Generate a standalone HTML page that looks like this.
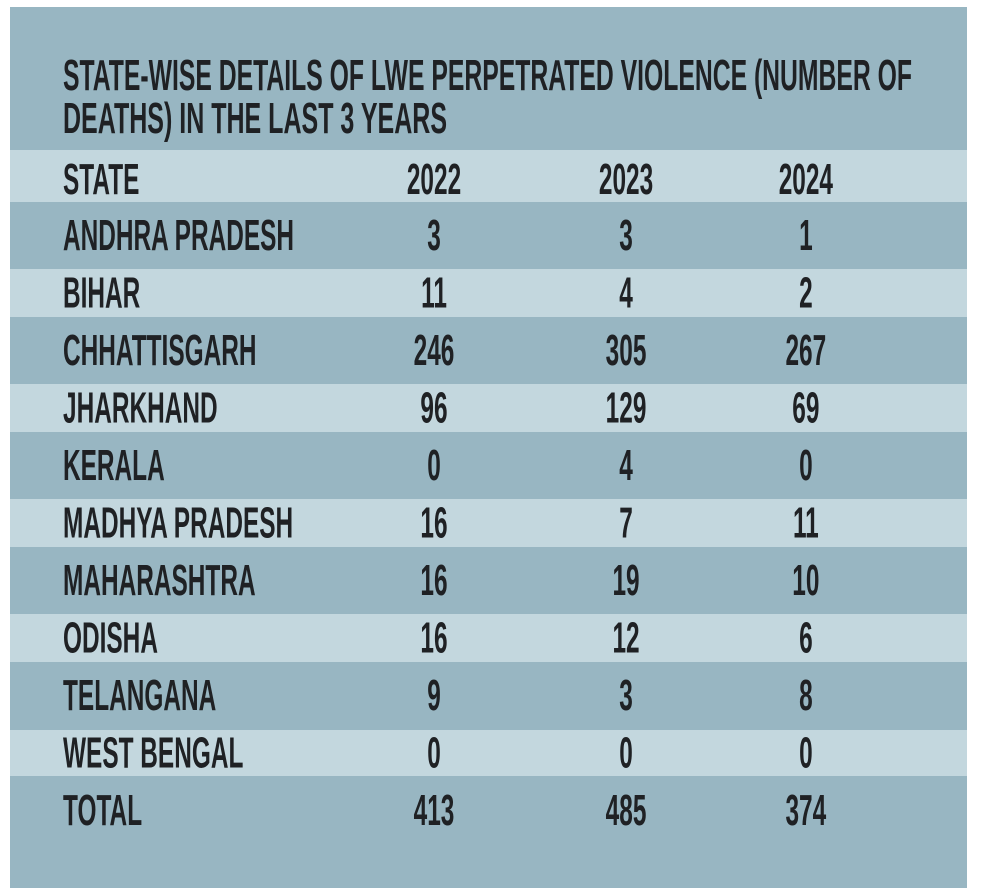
<!DOCTYPE html>
<html><head><meta charset="utf-8"><style>
html,body{margin:0;padding:0;background:#fff;}
svg{display:block;}
text{font-family:"Liberation Sans",sans-serif;font-weight:bold;font-size:44px;fill:#1f2124;}
</style></head><body>
<svg width="981" height="891" viewBox="0 0 981 891">
<rect x="0" y="0" width="981" height="891" fill="#fff"/>
<rect x="10" y="7" width="957" height="881" fill="#98b6c2"/>
<g fill="#c3d7de">
<rect x="10" y="150" width="957" height="52"/>
<rect x="10" y="269" width="957" height="48"/>
<rect x="10" y="384" width="957" height="48"/>
<rect x="10" y="499" width="957" height="48"/>
<rect x="10" y="614" width="957" height="48"/>
<rect x="10" y="730" width="957" height="46"/>
</g>
<text x="63" y="90" textLength="849" lengthAdjust="spacingAndGlyphs">STATE-WISE DETAILS OF LWE PERPETRATED VIOLENCE (NUMBER OF</text>
<text x="63" y="133" textLength="384" lengthAdjust="spacingAndGlyphs">DEATHS) IN THE LAST 3 YEARS</text>
<g transform="scale(0.555,1)">
<text x="113.5" y="194">STATE</text>
<g text-anchor="middle">
<text x="782" y="194">2022</text><text x="1128" y="194">2023</text><text x="1452" y="194">2024</text>
</g>
<text x="113.5" y="250">ANDHRA PRADESH</text>
<text x="113.5" y="307.5">BIHAR</text>
<text x="113.5" y="365">CHHATTISGARH</text>
<text x="113.5" y="422.5">JHARKHAND</text>
<text x="113.5" y="480">KERALA</text>
<text x="113.5" y="537.5">MADHYA PRADESH</text>
<text x="113.5" y="595">MAHARASHTRA</text>
<text x="113.5" y="652.5">ODISHA</text>
<text x="113.5" y="710">TELANGANA</text>
<text x="113.5" y="767.5">WEST BENGAL</text>
<text x="113.5" y="825">TOTAL</text>
<g text-anchor="middle">
<text x="782" y="250">3</text><text x="1128" y="250">3</text><text x="1452" y="250">1</text>
<text x="782" y="307.5">11</text><text x="1128" y="307.5">4</text><text x="1452" y="307.5">2</text>
<text x="782" y="365">246</text><text x="1128" y="365">305</text><text x="1452" y="365">267</text>
<text x="782" y="422.5">96</text><text x="1128" y="422.5">129</text><text x="1452" y="422.5">69</text>
<text x="782" y="480">0</text><text x="1128" y="480">4</text><text x="1452" y="480">0</text>
<text x="782" y="537.5">16</text><text x="1128" y="537.5">7</text><text x="1452" y="537.5">11</text>
<text x="782" y="595">16</text><text x="1128" y="595">19</text><text x="1452" y="595">10</text>
<text x="782" y="652.5">16</text><text x="1128" y="652.5">12</text><text x="1452" y="652.5">6</text>
<text x="782" y="710">9</text><text x="1128" y="710">3</text><text x="1452" y="710">8</text>
<text x="782" y="767.5">0</text><text x="1128" y="767.5">0</text><text x="1452" y="767.5">0</text>
<text x="782" y="825">413</text><text x="1128" y="825">485</text><text x="1452" y="825">374</text>
</g>
</g>
</svg>
</body></html>
